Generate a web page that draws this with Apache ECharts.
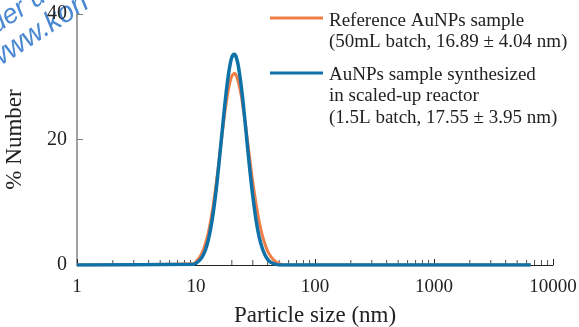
<!DOCTYPE html>
<html>
<head>
<meta charset="utf-8">
<script src="https://cdn.jsdelivr.net/npm/echarts@6/dist/echarts.min.js"></script>
<style>
  html, body { margin: 0; padding: 0; background: #fff; }
  #chart { width: 579px; height: 327px; }
</style>
</head>
<body>
<div id="chart"></div>
<script>
// particle size bins (nm) shared by both samples
const sizes = [1, 9.5, 10, 10.5, 11, 11.5, 12, 12.5, 13, 13.5, 14, 14.5, 15, 15.5, 16, 16.5, 17, 17.5,
  18, 18.5, 19, 19.5, 20, 20.5, 21, 21.5, 22, 22.5, 23, 23.5, 24, 25, 26, 27, 28, 29, 30,
  32, 34, 36, 38, 40, 42, 44, 47, 50, 55, 6500];

// % number, reference 50 mL batch
const refValues = [0, 0.2, 0.5, 1.0, 1.6, 2.4, 3.4, 4.6, 6.1, 7.8, 9.7, 11.8, 13.9, 16.1, 18.4, 20.5, 22.5, 24.4,
  26.0, 27.4, 28.6, 29.5, 30.1, 30.4, 30.5, 30.4, 30.0, 29.4, 28.7, 27.9, 27.0, 24.8, 22.5, 20.0, 17.6, 15.3, 13.2,
  9.7, 6.9, 4.8, 3.3, 2.2, 1.5, 1.0, 0.5, 0.2, 0, 0];

// % number, scaled-up 1.5 L batch
const scaledValues = [0, 0.1, 0.3, 0.6, 1.0, 1.6, 2.4, 3.5, 4.9, 6.6, 8.5, 10.7, 13.1, 15.7, 18.3, 20.9, 23.3, 25.7,
  27.8, 29.6, 31.1, 32.3, 33.1, 33.5, 33.6, 33.4, 32.8, 32.1, 31.0, 29.8, 28.5, 25.5, 22.3, 19.1, 16.1, 13.4, 11.0,
  7.1, 4.4, 2.7, 1.6, 0.9, 0.5, 0.3, 0.1, 0, 0, 0];

const minorTicks = [2, 3, 4, 5, 6, 7, 8, 9, 20, 30, 40, 50, 60, 70, 80, 90,
  200, 300, 400, 500, 600, 700, 800, 900, 2000, 3000, 4000, 5000, 6000, 7000, 8000, 9000];

const refName = 'Reference AuNPs sample\n(50mL batch, 16.89 ± 4.04 nm)';
const scaledName = 'AuNPs sample synthesized\nin scaled-up reactor\n(1.5L batch, 17.55 ± 3.95 nm)';

const orange = '#EF7E47';
const blue = '#0E72A9';
const serif = 'Liberation Serif';

const chart = echarts.init(document.getElementById('chart'));

chart.setOption({
  animation: false,
  textStyle: { fontFamily: serif },
  grid: { left: 77, right: 26, top: 14, bottom: 62, outerBoundsMode: 'none', containLabel: false },
  xAxis: {
    type: 'log',
    logBase: 10,
    min: 1,
    max: 10000,
    name: 'Particle size (nm)',
    nameLocation: 'middle',
    nameGap: 39,
    nameTextStyle: { fontFamily: serif, fontSize: 23, color: '#222' },
    axisLine: { lineStyle: { color: '#222', width: 1 } },
    axisTick: { inside: true, length: 6, lineStyle: { color: '#222' } },
    axisLabel: {
      fontFamily: serif, fontSize: 19, color: '#222', margin: 13,
      formatter: v => String(Math.round(v))
    },
    splitLine: { show: false }
  },
  yAxis: {
    type: 'value',
    min: 0,
    max: 40,
    interval: 20,
    name: '% Number',
    nameLocation: 'middle',
    nameGap: 51,
    nameTextStyle: { fontFamily: serif, fontSize: 23, color: '#222' },
    axisLine: { show: true, lineStyle: { color: '#808080', width: 1.5 } },
    axisTick: { show: true, inside: true, length: 6, lineStyle: { color: '#808080' } },
    axisLabel: { fontFamily: serif, fontSize: 20, color: '#222', margin: 10 },
    splitLine: { show: false }
  },
  series: [
    {
      name: 'minor ticks',
      type: 'scatter',
      silent: true,
      symbol: 'rect',
      symbolSize: [1, 5],
      symbolOffset: [0, -2.5],
      itemStyle: { color: '#222' },
      z: 1,
      data: minorTicks.map(v => [v, 0])
    },
    {
      name: refName,
      type: 'line',
      smooth: 0.3,
      showSymbol: false,
      lineStyle: { color: orange, width: 3 },
      itemStyle: { color: orange },
      z: 3,
      data: sizes.map((s, i) => [s, refValues[i]])
    },
    {
      name: scaledName,
      type: 'line',
      smooth: 0.3,
      showSymbol: false,
      lineStyle: { color: blue, width: 3.5 },
      itemStyle: { color: blue },
      z: 4,
      data: sizes.map((s, i) => [s, scaledValues[i]])
    }
  ],
  graphic: [
    { type: 'line', shape: { x1: 270, y1: 18, x2: 323, y2: 18 }, style: { stroke: orange, lineWidth: 3 } },
    { type: 'text', x: 329, y: 10, style: { text: refName, fontFamily: serif, fontSize: 19, lineHeight: 21.5, fill: '#222', textVerticalAlign: 'top' } },
    { type: 'line', shape: { x1: 270, y1: 73, x2: 323, y2: 73 }, style: { stroke: blue, lineWidth: 3 } },
    { type: 'text', x: 329, y: 64, style: { text: scaledName, fontFamily: serif, fontSize: 19, lineHeight: 21.5, fill: '#222', textVerticalAlign: 'top' } },
    { type: 'text', x: -1, y: 39, rotation: 0.58, style: { text: 'der u', fontFamily: 'Liberation Sans', fontStyle: 'italic', fontSize: 27, fill: '#4a89d2', textVerticalAlign: 'bottom' } },
    { type: 'text', x: -3, y: 76, rotation: 0.58, style: { text: 'www.kon', fontFamily: 'Liberation Sans', fontStyle: 'italic', fontSize: 29, fill: '#4a89d2', textVerticalAlign: 'bottom' } }
  ]
});
</script>
</body>
</html>
